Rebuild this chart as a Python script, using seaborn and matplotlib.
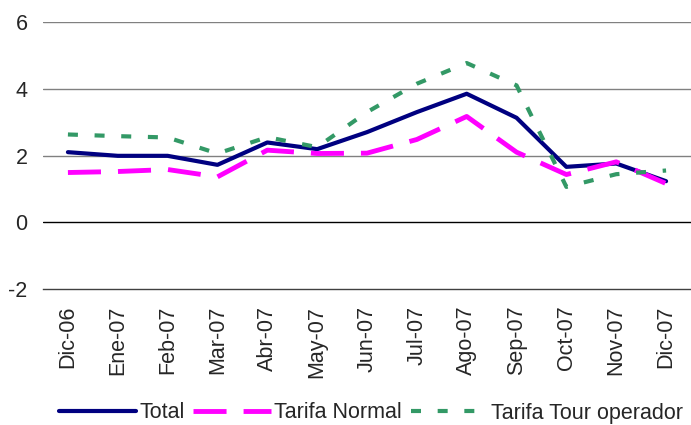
import matplotlib
matplotlib.use("Agg")
import matplotlib.pyplot as plt
import seaborn as sns
import pandas as pd
from matplotlib.ticker import FixedLocator

# data
meses = ["Dic-06", "Ene-07", "Feb-07", "Mar-07", "Abr-07", "May-07", "Jun-07",
         "Jul-07", "Ago-07", "Sep-07", "Oct-07", "Nov-07", "Dic-07"]
total = [2.10, 1.99, 1.99, 1.72, 2.39, 2.19, 2.70, 3.30, 3.85, 3.13, 1.66, 1.76, 1.23]
tarifa_normal = [1.49, 1.52, 1.58, 1.36, 2.16, 2.06, 2.07, 2.48, 3.17, 2.10, 1.43, 1.81, 1.16]
tarifa_tour = [2.63, 2.58, 2.54, 2.06, 2.55, 2.25, 3.30, 4.15, 4.77, 4.10, 1.06, 1.44, 1.55]

sns.set_style("white")
plt.rcParams['font.family'] = ['Liberation Sans', 'DejaVu Sans']
plt.rcParams['axes.unicode_minus'] = False
fs = 15.5

fig = plt.figure(figsize=(6.91, 4.25), dpi=100)
ax = fig.add_axes([43/691, 1-289/425, 648/691, 267/425])

df = pd.DataFrame({"mes": meses, "Total": total,
                   "Tarifa Normal": tarifa_normal,
                   "Tarifa Tour operador": tarifa_tour})

sns.lineplot(data=df, x="mes", y="Total", ax=ax, color="#000080", lw=3.0,
             sort=False, label="Total")
sns.lineplot(data=df, x="mes", y="Tarifa Normal", ax=ax, color="#FF00FF", lw=3.5,
             sort=False, label="Tarifa Normal", dashes=False)
sns.lineplot(data=df, x="mes", y="Tarifa Tour operador", ax=ax, color="#339966", lw=3.0,
             sort=False, label="Tarifa Tour operador", dashes=False)
ax.lines[1].set_dashes([6.8, 3.5])
ax.lines[2].set_dashes([2.4, 4.0])
for l in ax.lines:
    l.set_dash_capstyle("butt")
    l.set_solid_capstyle("round")

ax.set_xlim(-0.5, len(meses) - 0.5)
ax.set_ylim(-2, 6)
ax.set_yticks([-2, 0, 2, 4, 6])
for yv in [2, 4, 6]:
    ax.axhline(yv, color="#808080", lw=1.0, zorder=0)
ax.axhline(0, color="black", lw=1.0, zorder=0)

for s in ["top", "right", "left"]:
    ax.spines[s].set_visible(False)
ax.spines["bottom"].set_color("#404040")
ax.spines["bottom"].set_linewidth(1.0)

ax.set_xlabel("")
ax.set_ylabel("")
ax.tick_params(axis="x", which="major", length=0, pad=12, labelsize=fs, labelrotation=90)
ax.xaxis.set_minor_locator(FixedLocator([i - 0.5 for i in range(len(meses) + 1)]))
ax.tick_params(axis="x", which="minor", length=4, width=1, color="#404040", direction="out")
ax.tick_params(axis="y", length=0, pad=11, labelsize=fs)

ax.get_legend().remove()
h, lab = ax.get_legend_handles_labels()
fig.legend(h, lab, loc="center", bbox_to_anchor=(371/691, 1-413/425), ncol=3,
           frameon=False, fontsize=fs, handlelength=3.6, handletextpad=0.15,
           columnspacing=0.4)

fig.savefig("out.png", dpi=100)
